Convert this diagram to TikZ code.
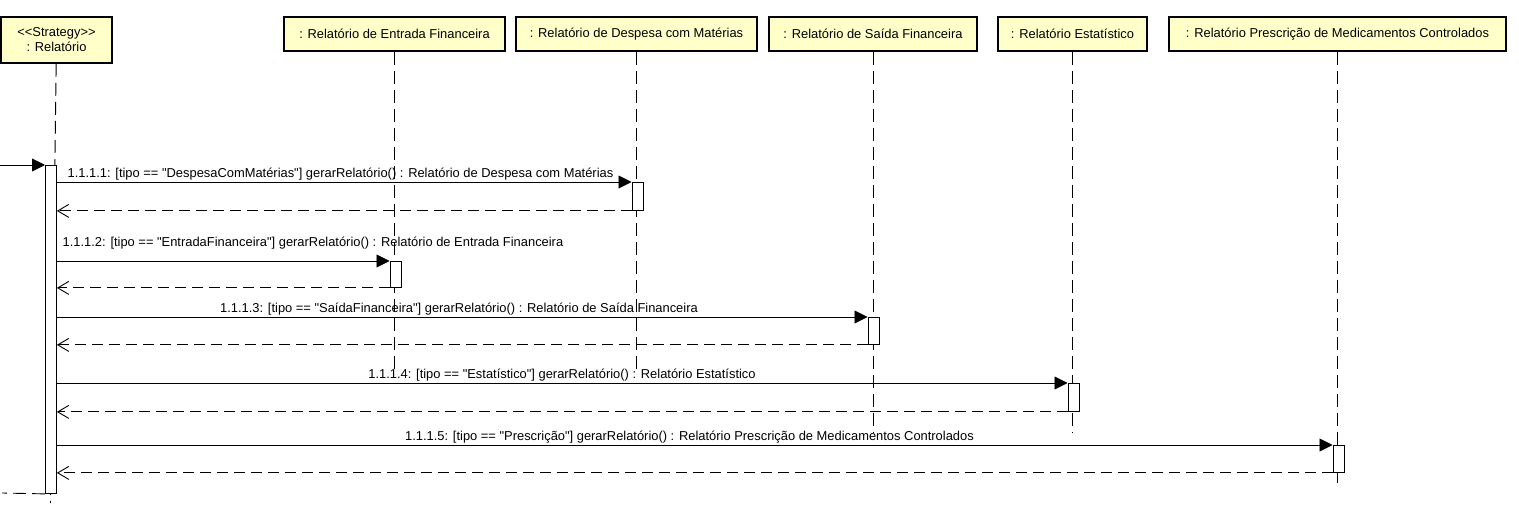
\documentclass[tikz,border=0pt]{standalone}
\usepackage{fontspec}
\newfontfamily\umlfont{Liberation Sans}
\usepackage{tikz}
\usetikzlibrary{arrows.meta}
\definecolor{headfill}{RGB}{255,255,202}
\tikzset{
    txt/.style={font=\umlfont\fontsize{12.9}{15}\selectfont, inner sep=0pt},
    head/.style={txt, draw, fill=headfill, line width=1.6pt, align=center, minimum height=34pt},
    act/.style={draw, fill=white, line width=0.9pt, minimum width=11pt, anchor=north west, inner sep=0pt},
    life/.style={line width=0.9pt, dash pattern=on 13pt off 6pt},
    call/.style={line width=0.9pt, -{Triangle[length=13pt,width=13pt]}},
    ret/.style={line width=0.9pt, dash pattern=on 11pt off 6pt, -{Straight Barb[length=11pt,width=13pt]}},
    msg/.style={txt, anchor=base}
}
\begin{document}
\begin{tikzpicture}[x=1pt,y=-1pt]
                \useasboundingbox [fill=white] (0,0) rectangle (1519,510);
                \node [head, minimum width=111pt, minimum height=46pt] (strat) at (56.5,40) {<<Strategy>>\\: Relatório};
                \node [head, minimum width=221pt] (entrada) at (394.5,34) {: Relatório de Entrada Financeira};
                \node [head, minimum width=241pt] (despesa) at (636.5,34) {: Relatório de Despesa com Matérias};
                \node [head, minimum width=208pt] (saida) at (873,34) {: Relatório de Saída Financeira};
                \node [head, minimum width=149pt] (estat) at (1072.5,34) {: Relatório Estatístico};
                \node [head, minimum width=337pt] (presc) at (1337.5,34) {: Relatório Prescrição de Medicamentos Controlados};
                \coordinate (stratend) at (50.5,503);
                \coordinate (entradaend) at (394.5,372);
                \coordinate (despesaend) at (636.5,372);
                \coordinate (saidaend) at (873,433);
                \coordinate (estatend) at (1072.5,433);
                \coordinate (prescend) at (1337.5,488);
                \draw [life] (strat) -- (stratend);
                \draw [life] (entrada) -- (entradaend);
                \draw [life] (despesa) -- (despesaend);
                \draw [life] (saida) -- (saidaend);
                \draw [life] (estat) -- (estatend);
                \draw [life] (presc) -- (prescend);
                \node [act, minimum height=328pt] (a0) at (45,165) {};
                \node [act, minimum height=28pt] (a1) at (631.5,182) {};
                \node [act, minimum height=26pt] (a2) at (389.5,261) {};
                \node [act, minimum height=27pt] (a3) at (867.5,317) {};
                \node [act, minimum height=28pt] (a4) at (1067.5,383) {};
                \node [act, minimum height=27pt] (a5) at (1332.5,445) {};
                \coordinate (in) at (0,165);
                \coordinate (out) at (2,493);
                \draw [call] (in) -- (a0.north west);
                \draw [life] (a0.south west) -- (out);
                \draw [call] (a0.east |- a1.north west) -- (a1.north west);
                \draw [ret] (a1.south west) -- (a0.east |- a1.south west);
                \draw [call] (a0.east |- a2.north west) -- (a2.north west);
                \draw [ret] (a2.south west) -- (a0.east |- a2.south west);
                \draw [call] (a0.east |- a3.north west) -- (a3.north west);
                \draw [ret] (a3.south west) -- (a0.east |- a3.south west);
                \draw [call] (a0.east |- a4.north west) -- (a4.north west);
                \draw [ret] (a4.south west) -- (a0.east |- a4.south west);
                \draw [call] (a0.east |- a5.north west) -- (a5.north west);
                \draw [ret] (a5.south west) -- (a0.east |- a5.south west);
                \node [msg] (m1) at (340.5,178) {1.1.1.1: [tipo == "DespesaComMatérias"] gerarRelatório() : Relatório de Despesa com Matérias};
                \node [msg] (m2) at (313,247) {1.1.1.2: [tipo == "EntradaFinanceira"] gerarRelatório() : Relatório de Entrada Financeira};
                \node [msg] (m3) at (459,313) {1.1.1.3: [tipo == "SaídaFinanceira"] gerarRelatório() : Relatório de Saída Financeira};
                \node [msg] (m4) at (562,379) {1.1.1.4: [tipo == "Estatístico"] gerarRelatório() : Relatório Estatístico};
                \node [msg] (m5) at (689.5,441) {1.1.1.5: [tipo == "Prescrição"] gerarRelatório() : Relatório Prescrição de Medicamentos Controlados};
      \end{tikzpicture}
\end{document}
